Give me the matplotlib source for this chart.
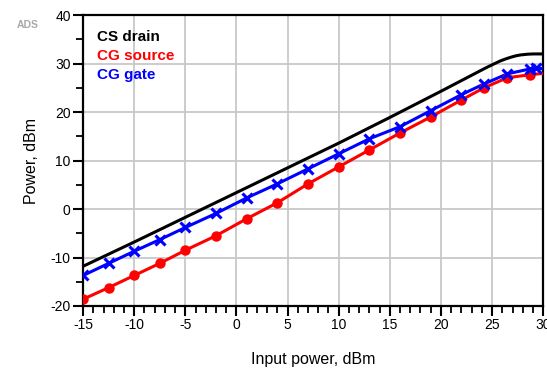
import numpy as np
import matplotlib.pyplot as plt
from matplotlib.ticker import MultipleLocator

plt.rcParams['font.family'] = ['Liberation Sans', 'DejaVu Sans']
plt.rcParams['axes.unicode_minus'] = False

# -------------------------------------
# Data
# -------------------------------------

cs_x = [-15, -10, -5, 0, 5, 10, 15, 20, 23, 24, 24.7, 25.3, 25.8, 26.3, 26.8,
        27.3, 27.8, 28.5, 29, 30]
cs_drain = [-11.8, -6.8, -1.7, 3.4, 8.5, 13.6, 18.9, 24.3, 27.6, 28.7, 29.45,
            30.05, 30.55, 30.95, 31.3, 31.6, 31.8, 31.95, 32.0, 32.0]

cg_x = [-15, -12.5, -10, -7.5, -5, -2, 1, 4, 7, 10, 13, 16, 19, 22, 24.2, 26.5, 28.7, 30]
cg_source = [-18.6, -16.2, -13.7, -11.2, -8.5, -5.5, -2.0, 1.3, 5.2, 8.7, 12.2,
             15.7, 19.0, 22.5, 25.0, 27.1, 27.7, 28.0]
cg_gate = [-13.7, -11.2, -8.7, -6.3, -3.8, -0.9, 2.3, 5.2, 8.3, 11.4, 14.5,
           17.0, 20.3, 23.6, 25.8, 27.9, 28.9, 29.0]

src_mark_x = cg_x[:-1]
src_mark_y = cg_source[:-1]
gate_mark_x = cg_x[:-1] + [29.3]
gate_mark_y = cg_gate[:-1] + [29.0]

# -------------------------------------
# Plot
# -------------------------------------

fig = plt.figure(figsize=(5.47, 3.70), dpi=100)
ax = fig.add_axes([0.152, 0.173, 0.841, 0.786])

ax.plot(cs_x, cs_drain, color="black", lw=2.2, zorder=3)
ax.plot(cg_x, cg_source, color="#ff0000", lw=2.2, zorder=3)
ax.plot(src_mark_x, src_mark_y, "o", color="#ff0000", ms=6.5, zorder=4)
ax.plot(cg_x, cg_gate, color="#0000ff", lw=2.2, zorder=3)
ax.plot(gate_mark_x, gate_mark_y, "x", color="#0000ff", ms=7.5, mew=2.2, zorder=4)

ax.set_xlim(-15, 30)
ax.set_ylim(-20, 40)
ax.xaxis.set_major_locator(MultipleLocator(5))
ax.xaxis.set_minor_locator(MultipleLocator(1))
ax.yaxis.set_major_locator(MultipleLocator(10))
ax.yaxis.set_minor_locator(MultipleLocator(5))

ax.grid(True, which="major", color="#c8c8c8", lw=1.3, zorder=0)
ax.tick_params(which="major", direction="out", length=7, width=1.5,
               labelsize=10, pad=2)
ax.tick_params(which="minor", direction="out", length=5, width=1.3)
for s in ax.spines.values():
    s.set_linewidth(1.6)
    s.set_color("black")

ax.set_xlabel("Input power, dBm", fontsize=11.5, labelpad=14)
ax.set_ylabel("Power, dBm", fontsize=11.5, labelpad=8)

# legend as plain colored text
ax.text(0.03, 0.91, "CS drain", transform=ax.transAxes, color="black",
        fontsize=11, fontweight="bold")
ax.text(0.03, 0.845, "CG source", transform=ax.transAxes, color="#ff0000",
        fontsize=11, fontweight="bold")
ax.text(0.03, 0.78, "CG gate", transform=ax.transAxes, color="#0000ff",
        fontsize=11, fontweight="bold")

fig.text(0.03, 0.925, "ADS", color="#a8a8a8", fontsize=7.5, fontweight="bold")

fig.savefig("out.png", dpi=100)
